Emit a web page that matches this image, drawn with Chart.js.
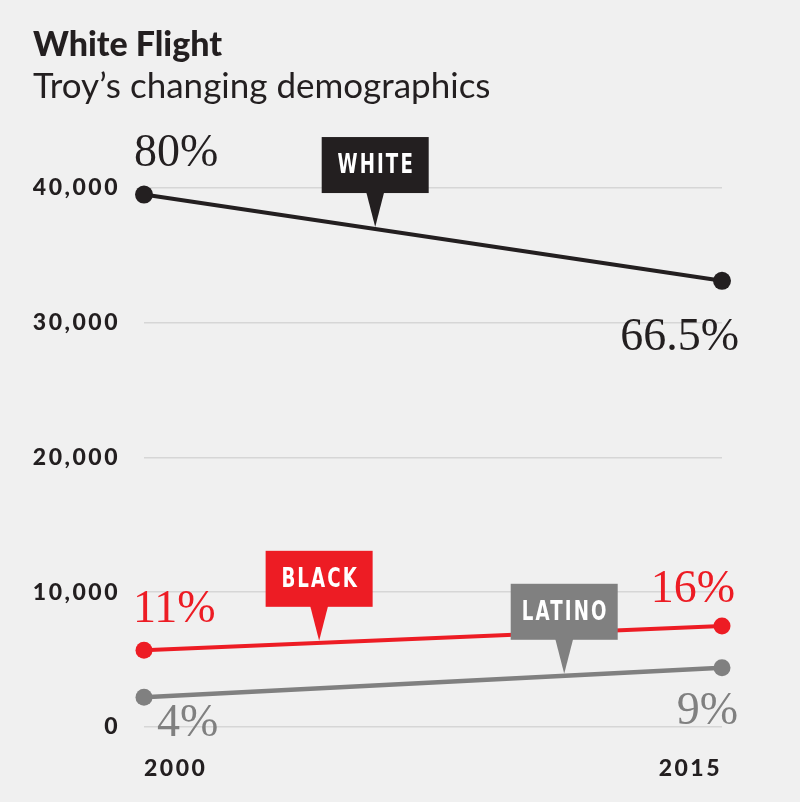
<!DOCTYPE html>
<html lang="en">
<head>
<meta charset="UTF-8">
<title>White Flight</title>
<style>
  * { margin: 0; padding: 0; box-sizing: border-box; }
  body { background: #f0f0f0; }
  .chartbox { width: 800px; height: 802px; }
</style>
</head>
<body>
<div class="chartbox">
  <canvas id="myChart" width="800" height="802"></canvas>
</div>

<script src="https://cdn.jsdelivr.net/npm/chart.js"></script>
<script>
// data
const years = ['2000', '2015'];
const whitePop = [39500, 33100];
const blackPop = [5700, 7500];
const latinoPop = [2200, 4400];
const whitePct = ['80%', '66.5%'];
const blackPct = ['11%', '16%'];
const latinoPct = ['4%', '9%'];
const yTicks = [0, 10000, 20000, 30000, 40000];

const INK = '#231f20';
const RED = '#ed1c24';
const GREY = '#808080';

// callouts and % labels (positions only, values come from the scales)
const callouts = [
	{ ds: 0, text: 'WHITE', at: 0.40, color: INK },
	{ ds: 1, text: 'BLACK', at: 0.303, color: RED },
	{ ds: 2, text: 'LATINO', at: 0.727, color: GREY }
];
const pctPlace = [
	[{ dx: -10, dy: -29, align: 'left' }, { dx: 17, dy: 69, align: 'right' }],
	[{ dx: -11, dy: -28, align: 'left' }, { dx: 13, dy: -24, align: 'right' }],
	[{ dx: 13, dy: 39, align: 'left' }, { dx: 16, dy: 56, align: 'right' }]
];
const pctLabels = [whitePct, blackPct, latinoPct];

const bgPlugin = {
	id: 'bg',
	beforeDraw(chart) {
		const ctx = chart.ctx;
		ctx.save();
		ctx.fillStyle = '#f0f0f0';
		ctx.fillRect(0, 0, chart.width, chart.height);
		ctx.restore();
	},
	afterDraw(chart) {
		chart.ctx.letterSpacing = '0px';
	}
};

const labelPlugin = {
	id: 'labels',
	afterDatasetsDraw(chart) {
		const ctx = chart.ctx;
		const x = chart.scales.x, y = chart.scales.y;

		// percentage labels
		ctx.save();
		ctx.font = '46px "Liberation Serif", "DejaVu Serif", serif';
		ctx.textBaseline = 'alphabetic';
		chart.data.datasets.forEach((ds, i) => {
			ds.data.forEach((v, j) => {
				const p = pctPlace[i][j];
				ctx.fillStyle = ds.borderColor;
				ctx.textAlign = p.align;
				ctx.fillText(pctLabels[i][j], x.getPixelForValue(j) + p.dx, y.getPixelForValue(v) + p.dy);
			});
		});
		ctx.restore();

		// callout flags
		callouts.forEach(c => {
			const d = chart.data.datasets[c.ds].data;
			const x0 = x.getPixelForValue(0), x1 = x.getPixelForValue(1);
			const y0 = y.getPixelForValue(d[0]), y1 = y.getPixelForValue(d[1]);
			const px = x0 + (x1 - x0) * c.at;
			const tip = y0 + (y1 - y0) * c.at - 2;
			const bw = 107, bh = 56, stem = 34;
			const bottom = tip - stem;
			ctx.save();
			ctx.fillStyle = c.color;
			ctx.fillRect(px - bw / 2, bottom - bh, bw, bh);
			ctx.beginPath();
			ctx.moveTo(px - 9, bottom - 1);
			ctx.lineTo(px + 9, bottom - 1);
			ctx.lineTo(px, tip);
			ctx.closePath();
			ctx.fill();
			// condensed white caps
			ctx.translate(px + 1, bottom - bh / 2 + 1);
			ctx.scale(0.7, 1);
			ctx.fillStyle = '#ffffff';
			ctx.font = 'bold 26px "DejaVu Sans", sans-serif';
			ctx.letterSpacing = '3px';
			ctx.textAlign = 'center';
			ctx.textBaseline = 'middle';
			ctx.fillText(c.text, 0, 0);
			ctx.restore();
		});

		// tick labels are drawn next (ticks.z = 1), spaced out like the original
		ctx.letterSpacing = '2.5px';
	}
};

const data = {
	labels: years,
	datasets: [
		{ label: 'White', data: whitePop, borderColor: INK, backgroundColor: INK, borderWidth: 4, pointRadius: 9, pointHoverRadius: 9, pointBorderWidth: 0, clip: false },
		{ label: 'Black', data: blackPop, borderColor: RED, backgroundColor: RED, borderWidth: 4, pointRadius: 8.5, pointHoverRadius: 8.5, pointBorderWidth: 0, clip: false },
		{ label: 'Latino', data: latinoPop, borderColor: GREY, backgroundColor: GREY, borderWidth: 4.5, pointRadius: 8.5, pointHoverRadius: 8.5, pointBorderWidth: 0, clip: false }
	]
};

const config = {
	type: 'line',
	data,
	options: {
		responsive: false,
		animation: false,
		events: [],
		layout: { padding: { top: 25, left: 33, right: 78, bottom: 21 } },
		plugins: {
			legend: { display: false },
			tooltip: { enabled: false },
			title: {
				display: true,
				text: 'White Flight',
				align: 'start',
				color: INK,
				font: { family: 'Lato', size: 34, weight: 900, lineHeight: 1.2 },
				padding: { top: 0, bottom: 0 }
			},
			subtitle: {
				display: true,
				text: 'Troy\u2019s changing demographics',
				align: 'start',
				color: INK,
				font: { family: 'Lato', size: 35, weight: 'normal', lineHeight: 1.2 },
				padding: { top: 0, bottom: 80 }
			}
		},
		scales: {
			x: {
				offset: false,
				afterFit(scale) { scale.height = 54; },
				grid: { display: false, drawTicks: false },
				border: { display: false },
				ticks: {
					z: 1,
					align: 'inner',
					padding: 28,
					color: INK,
					font: { family: 'Lato', size: 23, weight: 900 }
				}
			},
			y: {
				min: 0,
				max: 40000,
				afterFit(scale) { scale.width = 111; },
				afterBuildTicks(scale) { scale.ticks = yTicks.map(v => ({ value: v })); },
				grid: { color: '#d6d6d6', lineWidth: 1.5, drawTicks: false },
				border: { display: false },
				ticks: {
					z: 1,
					padding: 24,
					color: INK,
					font: { family: 'Lato', size: 23, weight: 900 },
					callback: v => v.toLocaleString('en-US')
				}
			}
		}
	},
	plugins: [bgPlugin, labelPlugin]
};

const myChart = new Chart(document.getElementById('myChart'), config);
</script>
</body>
</html>
